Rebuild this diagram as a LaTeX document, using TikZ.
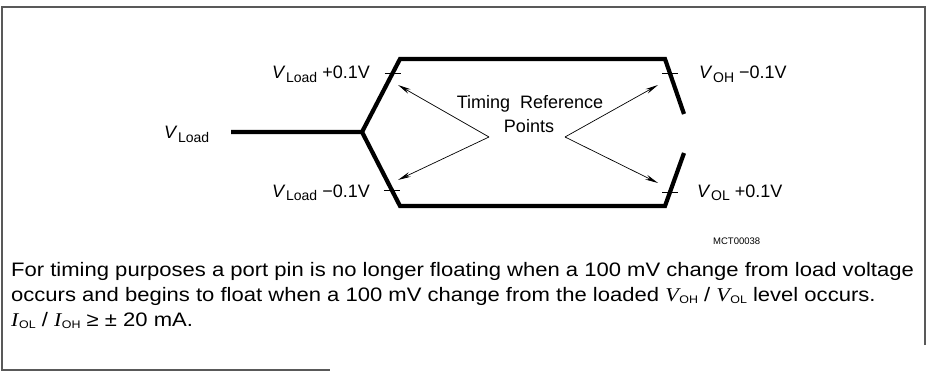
\documentclass[tikz,border=0pt]{standalone}
\usepackage{fontspec}
\setmainfont{Liberation Sans}
\newfontfamily\timesfont{Liberation Serif}
\usetikzlibrary{arrows.meta,calc}
\newcommand{\VV}[1]{\textit{V}\kern0.5pt\raisebox{-3.5pt}{\fontsize{14}{14}\selectfont #1}}
\newcommand{\TV}[2]{{\timesfont\itshape #1}\kern0.5pt\raisebox{-2.5pt}{\fontsize{11}{11}\selectfont #2}}
\begin{document}
\begin{tikzpicture}[x=1pt,y=-1pt,
  wave/.style={line width=4.2pt,line join=miter},
  tickmark/.style={line width=0.8pt},
  ptr/.style={line width=0.7pt,-{Stealth[length=13pt,width=5pt]}},
  lbl/.style={font=\fontsize{18}{20}\selectfont,inner sep=0pt},
  body/.style={font=\fontsize{19.5}{26}\selectfont,inner sep=0pt},
  frame/.style={line width=1.2pt,draw=black!65}]
\useasboundingbox (0,0) rectangle (931,374);
\draw[frame] (925,345) -- (925,7) -- (2,7) -- (2,370) -- (330,370);
% waveform
\coordinate (s) at (231,132);
\coordinate (j) at (362,132);
\coordinate (tl) at (400,59);
\coordinate (tr) at (665,59);
\coordinate (te) at (684,114);
\coordinate (bl) at (400,206);
\coordinate (br) at (665,206);
\coordinate (be) at (684,153);
\draw[wave] (s) -- (j) -- (tl) -- (tr) -- (te);
\draw[wave] (j) -- (bl) -- (br) -- (be);
% tick marks
\coordinate (k1) at (392.7,73);
\coordinate (k2) at (391.8,190);
\coordinate (k3) at (669.8,73);
\coordinate (k4) at (670,192);
\foreach \k in {k1,k2,k3,k4}
  \draw[tickmark] ($(\k)+(-8,0)$) -- ($(\k)+(8,0)$);
% labels
\node[lbl,anchor=base west] (vload) at (164,139) {\VV{Load}};
\node[lbl,anchor=base east] (l1) at (370,79) {\VV{Load} +0.1V};
\node[lbl,anchor=base east] (l2) at (370,197) {\VV{Load} −0.1V};
\node[lbl,anchor=base west] (l3) at (699,79) {\VV{OH} −0.1V};
\node[lbl,anchor=base west] (l4) at (697,197) {\VV{OL} +0.1V};
\node[lbl,anchor=base] (trp1) at (530,109) {Timing\ \ Reference};
\node[lbl,anchor=base] (trp2) at (529,133) {Points};
% pointers
\coordinate (la) at (489,137);
\coordinate (ra) at (565,137);
\coordinate (p1) at (398,85);
\coordinate (p2) at (398,180);
\coordinate (p3) at (658,85);
\coordinate (p4) at (658,183);
\draw[ptr] (la) -- (p1);
\draw[ptr] (la) -- (p2);
\draw[ptr] (ra) -- (p3);
\draw[ptr] (ra) -- (p4);
% figure code
\node[inner sep=0pt,font=\fontsize{9.5}{10}\selectfont,anchor=base west] (code) at (713,244) {MCT00038};
% body text
\node[body,anchor=base west] (t1) at (11,276) {\scalebox{1.13}[1]{For timing purposes a port pin is no longer floating when a 100 mV change from load voltage}};
\node[body,anchor=base west] (t2) at (11,301) {\scalebox{1.13}[1]{occurs and begins to float when a 100 mV change from the loaded \TV{V}{OH} / \TV{V}{OL} level occurs.}};
\node[body,anchor=base west] (t3) at (11,326) {\scalebox{1.13}[1]{\TV{I}{OL} / \TV{I}{OH} ≥ ± 20 mA.}};
\end{tikzpicture}
\end{document}
